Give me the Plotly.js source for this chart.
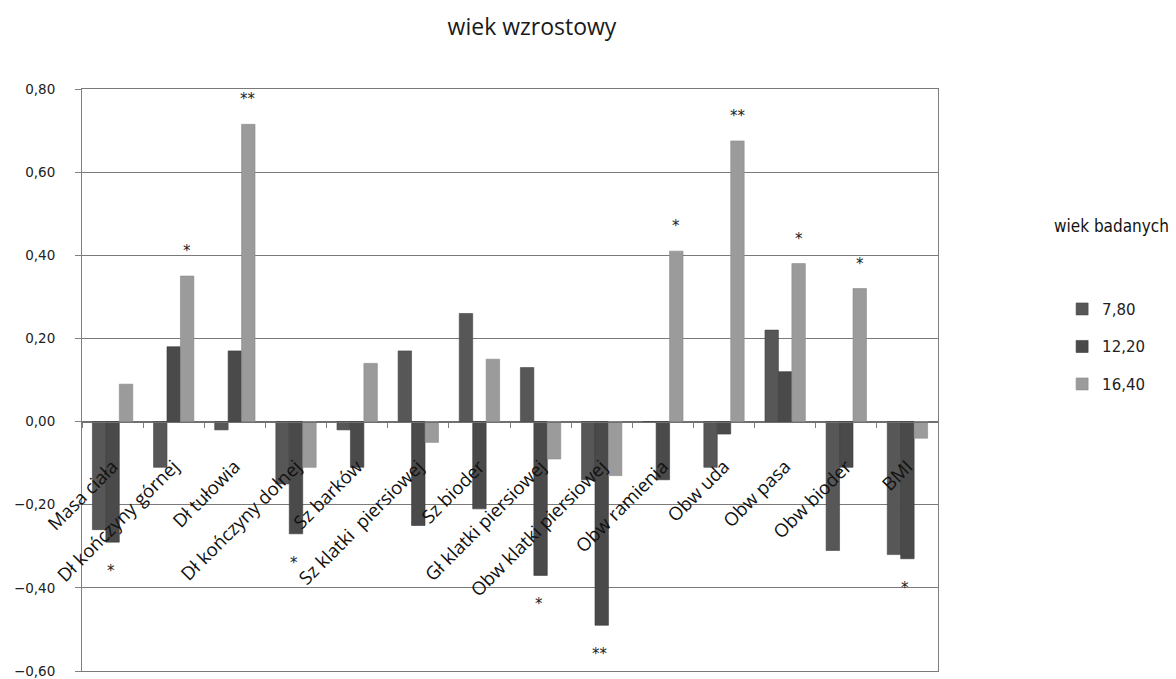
<!DOCTYPE html>
<html>
<head>
<meta charset="utf-8">
<script src="https://cdn.plot.ly/plotly-3.0.1.min.js"></script>
<style>html,body{margin:0;padding:0;background:#fff;}#chart{width:1176px;height:679px;}</style>
</head>
<body>
<div id="chart"></div>
<script>
// ---- data ----
const categories = ['Masa ciała','Dł kończyny górnej','Dł tułowia','Dł kończyny dolnej','Sz barków','Sz klatki  piersiowej','Sz bioder','Gł klatki piersiowej','Obw klatki piersiowej','Obw ramienia','Obw uda','Obw pasa','Obw bioder','BMI'];
const seriesNames = ['7,80','12,20','16,40'];
const v780  = [-0.26,-0.11,-0.02,-0.15,-0.02, 0.17, 0.26, 0.13,-0.14, 0.00,-0.11, 0.22,-0.31,-0.32];
const v1220 = [-0.29, 0.18, 0.17,-0.27,-0.11,-0.25,-0.21,-0.37,-0.49,-0.14,-0.03, 0.12,-0.11,-0.33];
const v1640 = [ 0.09, 0.35, 0.715,-0.11, 0.14,-0.05, 0.15,-0.09,-0.13, 0.41, 0.675, 0.38, 0.32,-0.04];
const sig1220 = ['*','','','*','','','','*','**','','','','','*'];
const sig1640 = ['','*','**','','','','','','','*','**','*','*',''];
const yTicks = [-0.6,-0.4,-0.2,0,0.2,0.4,0.6,0.8];

// ---- style ----
const colors = ['#575757','#4a4a4a','#9b9b9b'];
const lineColors = ['#444','#3a3a3a','#8a8a8a'];
const values = [v780, v1220, v1640];

const traces = values.map((v,i)=>({
  type:'bar', x:categories, y:v, name:seriesNames[i],
  legendgroup:'g'+i,
  marker:{color:colors[i], line:{color:lineColors[i], width:0.6}},
  hoverinfo:'x+y'
}));
// invisible helper trace on a frame axis (top/bottom border lines)
traces.push({type:'scatter', x:[categories[0]], y:[0], xaxis:'x2', yaxis:'y',
  mode:'markers', marker:{opacity:0}, showlegend:false, hoverinfo:'skip'});

const annotations = [];
const barStep = 13.5;
function addStars(sig, vals, xs){
  sig.forEach((s,k)=>{
    if(!s) return;
    const val = vals[k];
    annotations.push({
      x:categories[k], y:val, xref:'x', yref:'y', text:s, showarrow:false,
      xshift:xs, yshift: val>=0 ? 25 : -29, yanchor:'middle', xanchor:'center',
      font:{family:'DejaVu Sans', size:15, color:'#222'}
    });
  });
}
addStars(sig1220, v1220, -2);
addStars(sig1640, v1640, barStep);

annotations.push({
  text:'wiek badanych', xref:'paper', yref:'paper', x:1.203, y:0.765,
  showarrow:false, xanchor:'center', yanchor:'middle',
  font:{family:'Liberation Sans Narrow, DejaVu Sans Condensed, sans-serif', size:17, color:'#111'}
});

const layout = {
  width:1176, height:679,
  paper_bgcolor:'#fff', plot_bgcolor:'#fff',
  separators:',.',
  margin:{l:82, r:238, t:89, b:8, autoexpand:false},
  title:{text:'wiek wzrostowy', x:532/1176, xanchor:'center', xref:'container',
         y:1-27/679, yref:'container', yanchor:'middle',
         font:{family:'Open Sans', size:23, color:'#1a1a1a'}},
  barmode:'group', bargap:0.34, bargroupgap:0,
  showlegend:true,
  legend:{x:1.145, y:0.65, xanchor:'left', yanchor:'top', traceorder:'grouped',
          tracegroupgap:15, font:{family:'DejaVu Sans', size:15, color:'#222'},
          bgcolor:'rgba(0,0,0,0)'},
  xaxis:{type:'category', anchor:'free', position:0.6/1.4, showline:true,
         linecolor:'#707070', linewidth:1, ticks:'outside', ticklen:5, tickcolor:'#808080',
         tickson:'boundaries', tickangle:-45, showgrid:false, zeroline:false,
         range:[-0.5,13.5], automargin:false, ticklabelstandoff:26,
         tickfont:{family:'Open Sans', size:18.5, color:'#111'}},
  xaxis2:{type:'category', overlaying:'x', anchor:'y', side:'bottom', range:[-0.5,13.5],
         showline:true, mirror:true, linecolor:'#7a7a7a', linewidth:1,
         showticklabels:false, ticks:'', showgrid:false, zeroline:false, automargin:false},
  yaxis:{range:[-0.6,0.8], tickvals:yTicks, tickformat:'.2f', showgrid:true,
         gridcolor:'#7a7a7a', gridwidth:1, zeroline:true, zerolinecolor:'#707070',
         zerolinewidth:1, showline:true, mirror:true, linecolor:'#808080', linewidth:1,
         ticks:'outside', ticklen:6, tickcolor:'#808080', automargin:false,
         ticklabelstandoff:17,
         tickfont:{family:'DejaVu Sans', size:13.5, color:'#222'}},
  annotations:annotations
};

Plotly.newPlot('chart', traces, layout, {displayModeBar:false, staticPlot:true});
</script>
</body>
</html>
